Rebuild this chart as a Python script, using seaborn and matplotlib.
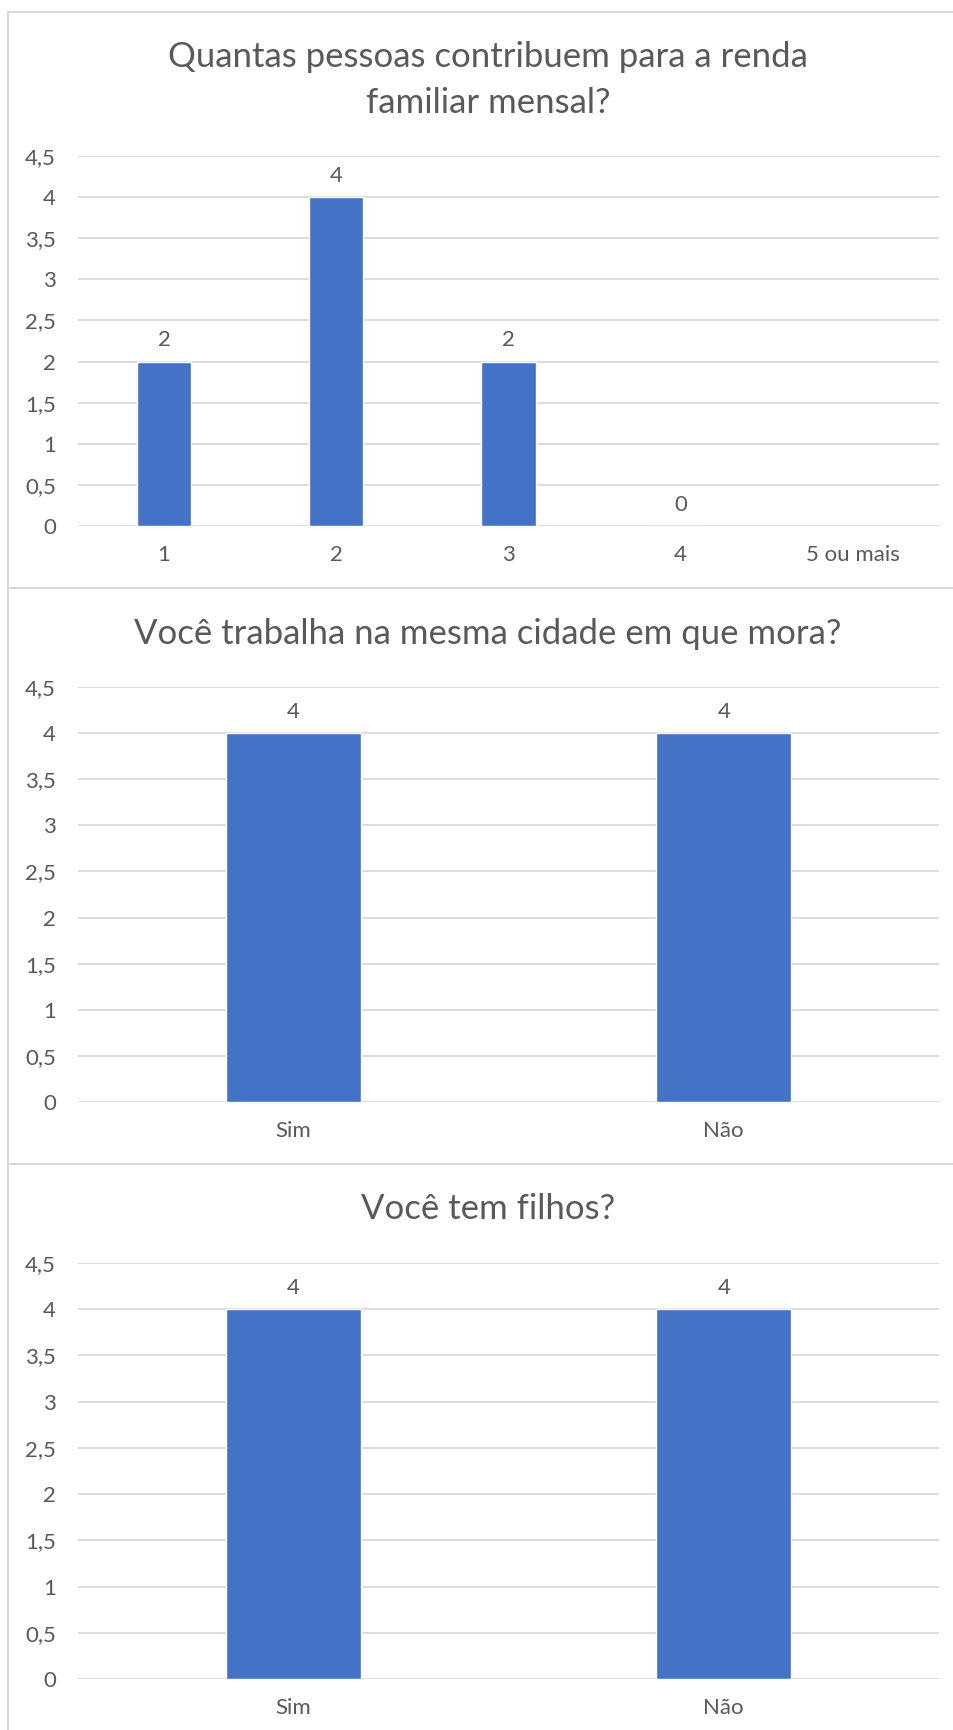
import matplotlib
matplotlib.use("Agg")
import matplotlib.pyplot as plt
import seaborn as sns
import numpy as np
import pandas as pd
from matplotlib.lines import Line2D

# data
renda_cats = ["1", "2", "3", "4", "5 ou mais"]
renda_vals = [2, 4, 2, 0, np.nan]

cidade_cats = ["Sim", "Não"]
cidade_vals = [4, 4]

filhos_cats = ["Sim", "Não"]
filhos_vals = [4, 4]

titles = ["Quantas pessoas contribuem para a renda\nfamiliar mensal?",
          "Você trabalha na mesma cidade em que mora?",
          "Você tem filhos?"]
yticks = np.arange(0, 4.51, 0.5)
yticklabels = ["0", "0,5", "1", "1,5", "2", "2,5", "3", "3,5", "4", "4,5"]

sns.set_style("white")
plt.rcParams["font.family"] = ["Lato", "DejaVu Sans"]

BLUE = "#4472C4"
TXT = "#595959"
GRID = "#D9D9D9"

fig = plt.figure(figsize=(9.54, 17.30), dpi=100)
W, H = 954, 1730

# axes boxes in pixels: (top, bottom) of the plot area
boxes = [(156, 526), (687, 1102), (1263, 1679)]
title_y = [80, 634, 1209]
left_px, right_px = 78, 939

panels = [(renda_cats, renda_vals), (cidade_cats, cidade_vals), (filhos_cats, filhos_vals)]

for (cats, vals), (top, bot), title, ty in zip(panels, boxes, titles, title_y):
    ax = fig.add_axes([left_px / W, 1 - bot / H, (right_px - left_px) / W, (bot - top) / H])
    df = pd.DataFrame({"cat": cats, "val": vals})
    sns.barplot(data=df, x="cat", y="val", order=cats, color=BLUE, width=0.314,
                saturation=1, ax=ax, errorbar=None)
    ax.set_ylim(0, 4.5)
    ax.set_xlim(-0.5, len(cats) - 0.5)
    ax.set_yticks(yticks)
    ax.set_yticklabels(yticklabels)
    ax.set_xlabel("")
    ax.set_ylabel("")
    ax.yaxis.grid(True, color=GRID, linewidth=1.3)
    ax.set_axisbelow(True)
    sns.despine(ax=ax, left=True, bottom=True)
    ax.tick_params(axis="y", length=0, pad=16, labelsize=16, labelcolor=TXT)
    ax.tick_params(axis="x", length=0, pad=14, labelsize=16, labelcolor=TXT)
    for i, v in enumerate(vals):
        if np.isnan(v):
            continue
        ax.annotate(f"{v:g}", (i, v), xytext=(0, 8), textcoords="offset points",
                    ha="center", va="bottom", fontsize=16, color=TXT)
    fig.text(488 / W, 1 - ty / H, title, ha="center", va="center",
             fontsize=25, color=TXT, linespacing=1.56)

# chart borders
border = dict(color=GRID, linewidth=1.5, transform=fig.transFigure)
fig.add_artist(Line2D([8.5 / W, 8.5 / W], [0, 1 - 12 / H], **border))
for yy in [12, 588, 1164]:
    fig.add_artist(Line2D([8.5 / W, 1], [1 - yy / H, 1 - yy / H], **border))

fig.savefig("out.png", dpi=100, facecolor="white")
